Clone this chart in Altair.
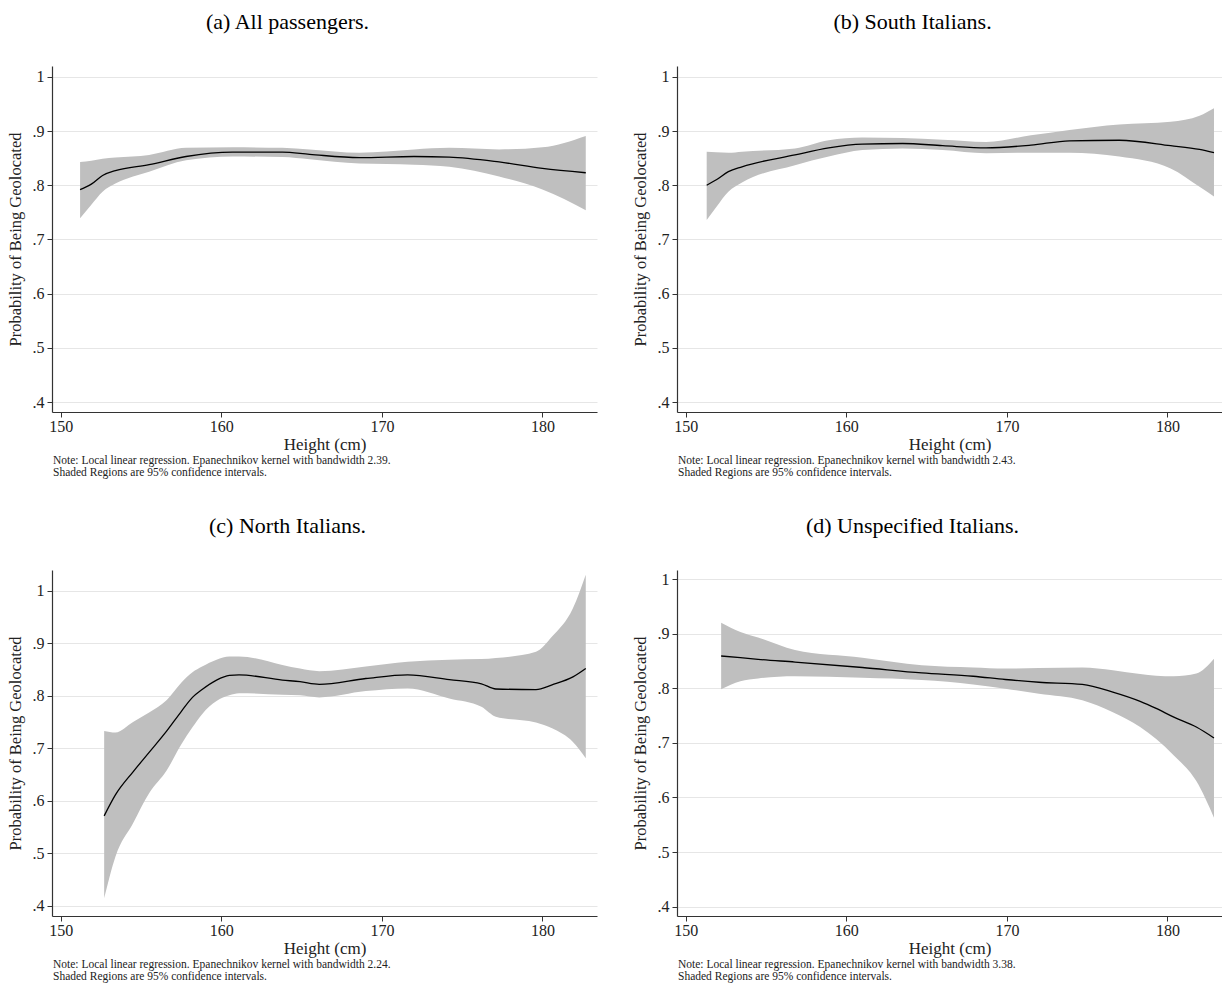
import altair as alt
import pandas as pd

# ---------------- data ----------------
titles = ["(a) All passengers.", "(b) South Italians.", "(c) North Italians.", "(d) Unspecified Italians."]
bandwidths = ["2.39", "2.43", "2.24", "3.38"]

a_x = [151.2, 151.9, 152.6, 153.4, 155.5, 157.8, 160.7, 163.8, 165.5, 168.6, 172.0, 174.2, 177.3, 180.0, 182.7]
a_fit = [.792, .802, .818, .827, .838, .853, .861, .861, .857, .851, .853, .852, .843, .831, .823]
a_hi = [.843, .845, .849, .851, .856, .869, .870, .869, .866, .860, .866, .869, .866, .870, .891]
a_lo = [.739, .764, .788, .803, .825, .846, .853, .852, .848, .840, .838, .834, .816, .792, .754]

b_x = [151.3, 151.9, 152.65, 153.5, 156.8, 158.9, 161.0, 163.5, 166.0, 168.7, 171.5, 173.9, 177.0, 180.2, 182.0, 182.9]
b_fit = [.800, .810, .825, .834, .856, .869, .876, .877, .873, .869, .874, .882, .883, .873, .866, .860]
b_hi = [.862, .861, .860, .862, .868, .883, .888, .887, .884, .880, .892, .902, .912, .917, .928, .942]
b_lo = [.736, .760, .788, .805, .837, .853, .865, .868, .865, .859, .860, .860, .853, .831, .797, .779]

c_x = [152.7, 153.4, 154.5, 155.5, 156.6, 157.5, 158.2, 158.8, 159.7, 160.5, 161.1, 163.8, 164.9, 166.1, 169.0,
       171.6, 174.2, 176.2, 177.1, 179.6, 180.6, 181.9, 182.7]
c_fit = [.571, .611, .655, .692, .733, .770, .797, .812, .830, .839, .840, .830, .827, .822, .833,
         .840, .831, .823, .813, .812, .821, .836, .852]
c_hi = [.733, .730, .750, .768, .792, .825, .845, .856, .869, .875, .875, .859, .852, .847, .856,
        .865, .869, .870, .872, .884, .913, .967, 1.031]
c_lo = [.414, .493, .557, .614, .658, .707, .740, .765, .790, .801, .805, .802, .801, .797, .809,
        .814, .795, .779, .760, .749, .738, .712, .681]

d_x = [152.2, 153.4, 154.5, 156.8, 161.0, 164.7, 167.9, 169.9, 172.0, 174.7, 176.6, 178.3, 179.3, 180.4, 181.8, 182.9]
d_fit = [.859, .856, .853, .848, .838, .828, .822, .816, .811, .807, .793, .776, .763, .747, .729, .709]
d_hi = [.920, .903, .893, .870, .856, .842, .838, .836, .837, .838, .833, .826, .823, .822, .827, .854]
d_lo = [.798, .813, .818, .822, .819, .815, .807, .799, .790, .778, .756, .729, .707, .677, .630, .563]

x_ticks = [150, 160, 170, 180]
y_ticks = [0.4, 0.5, 0.6, 0.7, 0.8, 0.9, 1.0]
x_domain = [149.45, 183.4]
y_domains = [[0.3816, 1.02], [0.3816, 1.02], [0.380, 1.040], [0.383, 1.0165]]

FONT = "Liberation Serif"
W, H = 545, 346


def panel(xv, fit, lo, hi, title, bw, ydom):
    df = pd.DataFrame({"h": xv, "fit": fit, "lo": lo, "hi": hi})
    xenc = alt.X("h:Q", scale=alt.Scale(domain=x_domain, nice=False, zero=False),
                 axis=alt.Axis(values=x_ticks, title="Height (cm)", grid=False, format="d"))
    yaxis = alt.Axis(values=y_ticks, title="Probability of Being Geolocated", grid=True,
                     labelExpr="datum.value == 1 ? '1' : replace(format(datum.value, '.1f'), '0.', '.')")
    yscale = alt.Scale(domain=ydom, nice=False, zero=False)
    band = alt.Chart(df).mark_area(color="#bfbfbf", opacity=1, interpolate="monotone").encode(
        x=xenc, y=alt.Y("lo:Q", scale=yscale, axis=yaxis), y2="hi:Q")
    line = alt.Chart(df).mark_line(color="black", strokeWidth=1.3, interpolate="monotone").encode(
        x=xenc, y=alt.Y("fit:Q", scale=yscale, axis=yaxis))
    note_df = pd.DataFrame({"note": [
        "Note: Local linear regression. Epanechnikov kernel with bandwidth " + bw + ".\n"
        "Shaded Regions are 95% confidence intervals."]})
    note = alt.Chart(note_df).mark_text(align="left", baseline="top", font=FONT, fontSize=11.5,
                                        lineBreak="\n", lineHeight=12, color="#222").encode(
        text="note:N", x=alt.value(1), y=alt.value(H + 43))
    return alt.layer(band, line, note).properties(
        width=W, height=H,
        title=alt.TitleParams(text=title, font=FONT, fontSize=22, fontWeight="normal",
                              anchor="middle", offset=32, dx=-37, color="black"))


panels = [
    panel(a_x, a_fit, a_lo, a_hi, titles[0], bandwidths[0], y_domains[0]),
    panel(b_x, b_fit, b_lo, b_hi, titles[1], bandwidths[1], y_domains[1]),
    panel(c_x, c_fit, c_lo, c_hi, titles[2], bandwidths[2], y_domains[2]),
    panel(d_x, d_fit, d_lo, d_hi, titles[3], bandwidths[3], y_domains[3]),
]

chart = alt.vconcat(
    alt.hconcat(panels[0], panels[1], spacing=80, bounds="flush"),
    alt.hconcat(panels[2], panels[3], spacing=80, bounds="flush"),
    spacing=36,
).properties(
    padding={"left": 7, "top": 11, "right": 0, "bottom": 0},
    background="white",
).configure_view(strokeWidth=0).configure_axis(
    labelFont=FONT, titleFont=FONT, labelFontSize=16, titleFontWeight="normal",
    labelColor="#222", titleColor="#222", domainColor="#333", tickColor="#333",
    tickSize=5, domainWidth=1.2, gridColor="#e6e6e6", gridWidth=1,
).configure_axisX(titleFontSize=17, titleY=32, titleBaseline="middle", labelPadding=1).configure_axisY(
    titleFontSize=16.5, labelPadding=3, titlePadding=9)

chart.save("out.html", embed_options={"renderer": "svg", "actions": False})
